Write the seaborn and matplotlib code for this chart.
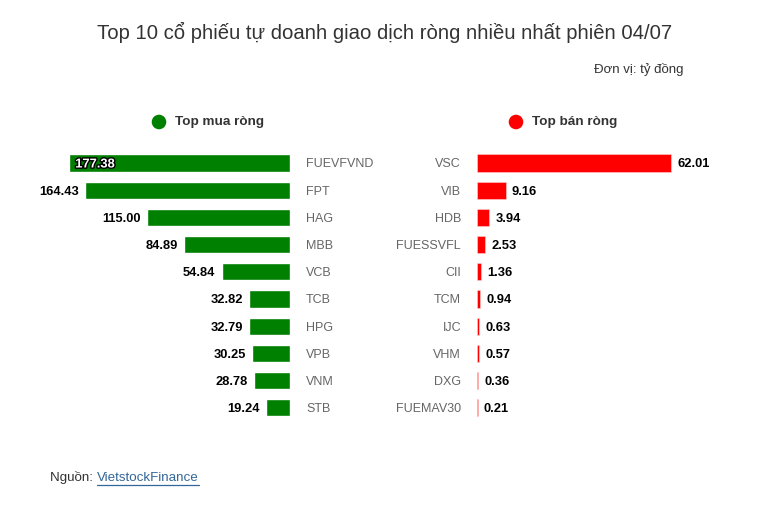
import matplotlib
matplotlib.use("Agg")
import matplotlib.pyplot as plt
import matplotlib.patheffects as pe
import seaborn as sns
import pandas as pd

buy_codes = ["FUEVFVND", "FPT", "HAG", "MBB", "VCB", "TCB", "HPG", "VPB", "VNM", "STB"]
buy_values = [177.38, 164.43, 115.00, 84.89, 54.84, 32.82, 32.79, 30.25, 28.78, 19.24]
sell_codes = ["VSC", "VIB", "HDB", "FUESSVFL", "CII", "TCM", "IJC", "VHM", "DXG", "FUEMAV30"]
sell_values = [62.01, 9.16, 3.94, 2.53, 1.36, 0.94, 0.63, 0.57, 0.36, 0.21]

title = "Top 10 cổ phiếu tự doanh giao dịch ròng nhiều nhất phiên 04/07"
unit = "Đơn vị: tỷ đồng"
buy_label = "Top mua ròng"
sell_label = "Top bán ròng"

sns.set_theme(style="white")
plt.rcParams['font.family'] = ['Liberation Sans', 'DejaVu Sans']

W, H = 768, 507
fig = plt.figure(figsize=(W / 100, H / 100), dpi=100)

def fx(px):
    return px / W

def fy(py):
    return 1 - py / H

row0, row_step = 163, 27.2
top_px = row0 - row_step / 2
bot_px = top_px + row_step * 10

l_left, l_right = 55, 290
ax1 = fig.add_axes([fx(l_left), fy(bot_px), fx(l_right - l_left), (bot_px - top_px) / H])
r_left, r_right = 477, 710
ax2 = fig.add_axes([fx(r_left), fy(bot_px), fx(r_right - r_left), (bot_px - top_px) / H])

df_buy = pd.DataFrame({"code": buy_codes, "value": buy_values})
df_sell = pd.DataFrame({"code": sell_codes, "value": sell_values})

sns.barplot(data=df_buy, x="value", y="code", orient="h", color="#008000",
            saturation=1, width=0.63, ax=ax1)
sns.barplot(data=df_sell, x="value", y="code", orient="h", color="#ff0000",
            saturation=1, width=0.63, ax=ax2, edgecolor="#ffd0d0", linewidth=0.4)

bmax = max(buy_values)
ax1.set_xlim(bmax * (l_right - l_left) / (290 - 69), 0)
smax = max(sell_values)
ax2.set_xlim(0, smax * (r_right - r_left) / (671 - 477))

for ax in (ax1, ax2):
    ax.set_ylim(9.5, -0.5)
    ax.set_xlabel("")
    ax.set_ylabel("")
    ax.set_xticks([])
    for s in ax.spines.values():
        s.set_visible(False)
    ax.tick_params(axis="y", length=0, labelsize=9, labelcolor="#666666")

ax1.yaxis.tick_right()
ax1.tick_params(axis="y", pad=11.5)
ax2.tick_params(axis="y", pad=11.5)

vfs = 9.3
for i, v in enumerate(buy_values):
    if i == 0:
        ax1.annotate(f"{v:.2f}", xy=(v, i), xytext=(4.5, 0), textcoords="offset points",
                     ha="left", va="center_baseline", fontsize=vfs, fontweight="bold", color="white",
                     path_effects=[pe.withStroke(linewidth=2, foreground="black")])
    else:
        ax1.annotate(f"{v:.2f}", xy=(v, i), xytext=(-4.5, 0), textcoords="offset points",
                     ha="right", va="center_baseline", fontsize=vfs, fontweight="bold", color="black")
for i, v in enumerate(sell_values):
    ax2.annotate(f"{v:.2f}", xy=(v, i), xytext=(4.5, 0), textcoords="offset points",
                 ha="left", va="center_baseline", fontsize=vfs, fontweight="bold", color="black")

ov = fig.add_axes([0, 0, 1, 1], zorder=-1)
ov.set_xlim(0, W)
ov.set_ylim(H, 0)
ov.axis("off")

ov.text(385, 32, title, ha="center", va="center", fontsize=14.6, color="#333333")
ov.text(683, 69, unit, ha="right", va="center", fontsize=9.5, color="#333333")

ov.scatter([159], [122], s=110, color="#008000", edgecolors="none")
ov.text(175, 122, buy_label, ha="left", va="center", fontsize=9.7, fontweight="bold", color="#333333")
ov.scatter([516], [122], s=110, color="#ff0000", edgecolors="none")
ov.text(532, 122, sell_label, ha="left", va="center", fontsize=9.7, fontweight="bold", color="#333333")

t1 = ov.text(50, 478, "Nguồn: ", ha="left", va="center", fontsize=9.6, color="#333333")
fig.canvas.draw()
r = fig.canvas.get_renderer()
bb = t1.get_window_extent(renderer=r)
t2 = ov.text(bb.x1, 478, "VietstockFinance", ha="left", va="center", fontsize=9.6, color="#336699")
fig.canvas.draw()
bb2 = t2.get_window_extent(renderer=r)
ov.plot([bb2.x0, bb2.x1], [485, 485], color="#336699", lw=0.9)

fig.savefig("out.png", dpi=100, facecolor="white")
